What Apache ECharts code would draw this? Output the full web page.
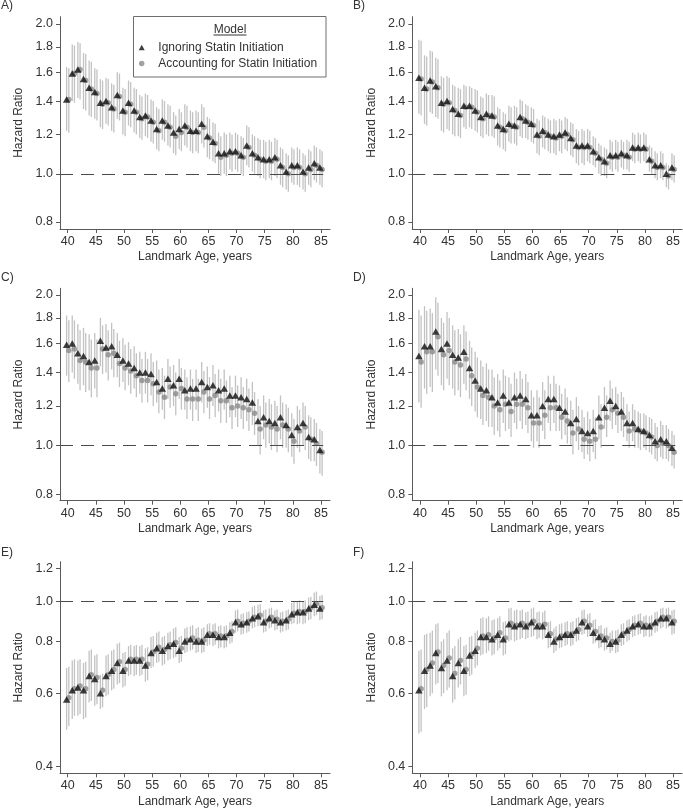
<!DOCTYPE html>
<html>
<head>
<meta charset="utf-8">
<script src="https://cdn.jsdelivr.net/npm/echarts@6/dist/echarts.min.js"></script>
<style>
html,body{margin:0;padding:0;background:#fff;}
#chart{width:683px;height:811px;}
</style>
</head>
<body>
<div id="chart"></div>
<script>
// ---------- categories & tick labels ----------
const ages = [40,41,42,43,44,45,46,47,48,49,50,51,52,53,54,55,56,57,58,59,60,61,62,63,64,65,66,67,68,69,70,71,72,73,74,75,76,77,78,79,80,81,82,83,84,85];
const xTicks = [40,45,50,55,60,65,70,75,80,85];
const yTicksUpper = [0.8,1.0,1.2,1.4,1.6,1.8,2.0];
const yTicksLower = [0.4,0.6,0.8,1.0,1.2];
const panelLabels = ['A)','B)','C)','D)','E)','F)'];
const seriesNames = ['Ignoring Statin Initiation','Accounting for Statin Initiation'];
const legendTitle = 'Model';
const xAxisTitle = 'Landmark Age, years';
const yAxisTitle = 'Hazard Ratio';
const referenceHR = 1.0;

// ---------- Panel A ----------
const aTri   = [1.41,1.59,1.62,1.55,1.49,1.46,1.39,1.40,1.36,1.44,1.34,1.39,1.34,1.30,1.31,1.28,1.23,1.28,1.25,1.21,1.23,1.25,1.22,1.22,1.26,1.19,1.16,1.10,1.10,1.11,1.11,1.09,1.14,1.10,1.08,1.07,1.07,1.08,1.04,1.01,1.04,1.04,1.01,1.03,1.05,1.03];
const aTriLo = [1.22,1.40,1.42,1.35,1.31,1.29,1.24,1.26,1.22,1.29,1.20,1.25,1.21,1.18,1.19,1.16,1.12,1.17,1.14,1.10,1.12,1.14,1.11,1.11,1.15,1.08,1.06,1.00,1.00,1.02,1.02,1.00,1.04,1.01,0.99,0.98,0.98,0.99,0.95,0.93,0.96,0.95,0.93,0.95,0.97,0.95];
const aTriHi = [1.64,1.82,1.84,1.75,1.69,1.63,1.55,1.56,1.52,1.60,1.49,1.54,1.49,1.44,1.45,1.41,1.36,1.41,1.38,1.33,1.35,1.38,1.34,1.34,1.38,1.30,1.27,1.21,1.21,1.21,1.21,1.19,1.25,1.20,1.18,1.17,1.17,1.18,1.13,1.10,1.13,1.13,1.10,1.12,1.14,1.12];
const aCir   = [1.41,1.59,1.62,1.54,1.48,1.45,1.38,1.39,1.35,1.43,1.33,1.38,1.33,1.29,1.30,1.27,1.22,1.27,1.24,1.19,1.21,1.24,1.21,1.21,1.24,1.18,1.15,1.08,1.09,1.10,1.10,1.08,1.13,1.09,1.07,1.06,1.06,1.07,1.03,1.00,1.03,1.03,1.00,1.02,1.04,1.02];
const aCirLo = [1.21,1.39,1.41,1.34,1.30,1.28,1.23,1.25,1.21,1.28,1.19,1.24,1.20,1.17,1.18,1.15,1.11,1.16,1.13,1.09,1.11,1.13,1.10,1.10,1.13,1.07,1.05,0.99,0.99,1.01,1.01,0.99,1.03,1.00,0.98,0.97,0.97,0.98,0.94,0.92,0.95,0.94,0.92,0.94,0.96,0.94];
const aCirHi = [1.63,1.81,1.83,1.74,1.68,1.62,1.54,1.55,1.51,1.59,1.48,1.53,1.48,1.43,1.44,1.40,1.35,1.40,1.37,1.31,1.33,1.37,1.33,1.33,1.36,1.29,1.26,1.19,1.20,1.20,1.20,1.18,1.24,1.19,1.17,1.16,1.16,1.17,1.12,1.09,1.12,1.12,1.09,1.11,1.13,1.11];

// ---------- Panel B ----------
const bTri   = [1.56,1.49,1.54,1.50,1.39,1.40,1.35,1.32,1.37,1.37,1.34,1.30,1.32,1.31,1.25,1.23,1.26,1.25,1.30,1.28,1.26,1.20,1.22,1.20,1.19,1.20,1.21,1.18,1.14,1.14,1.14,1.11,1.08,1.06,1.09,1.09,1.10,1.09,1.13,1.13,1.13,1.07,1.04,1.04,1.00,1.03];
const bTriLo = [1.32,1.26,1.33,1.30,1.22,1.23,1.20,1.19,1.24,1.24,1.22,1.19,1.20,1.19,1.14,1.12,1.16,1.15,1.19,1.18,1.16,1.10,1.13,1.11,1.10,1.11,1.12,1.09,1.05,1.05,1.06,1.04,1.00,0.99,1.02,1.02,1.03,1.02,1.06,1.06,1.06,1.01,0.98,0.98,0.94,0.97];
const bTriHi = [1.86,1.73,1.77,1.71,1.57,1.57,1.51,1.49,1.51,1.50,1.48,1.43,1.45,1.44,1.36,1.33,1.37,1.37,1.41,1.38,1.36,1.29,1.31,1.29,1.29,1.29,1.30,1.27,1.23,1.23,1.23,1.19,1.15,1.13,1.17,1.17,1.17,1.17,1.21,1.21,1.21,1.14,1.11,1.11,1.05,1.10];
const bCir   = [1.55,1.48,1.53,1.49,1.38,1.39,1.34,1.31,1.36,1.36,1.33,1.29,1.31,1.30,1.24,1.22,1.25,1.24,1.29,1.27,1.25,1.19,1.21,1.19,1.18,1.19,1.20,1.17,1.13,1.13,1.13,1.10,1.07,1.05,1.08,1.08,1.09,1.08,1.12,1.12,1.12,1.06,1.03,1.03,0.99,1.02];
const bCirLo = [1.31,1.25,1.32,1.29,1.21,1.22,1.19,1.18,1.23,1.23,1.21,1.18,1.19,1.18,1.13,1.11,1.15,1.14,1.18,1.17,1.15,1.09,1.12,1.10,1.09,1.10,1.11,1.08,1.04,1.04,1.05,1.03,0.99,0.98,1.01,1.01,1.02,1.01,1.05,1.05,1.05,1.00,0.97,0.97,0.93,0.96];
const bCirHi = [1.85,1.72,1.76,1.70,1.56,1.56,1.50,1.48,1.50,1.49,1.47,1.42,1.44,1.43,1.35,1.32,1.36,1.36,1.40,1.37,1.35,1.28,1.30,1.28,1.28,1.28,1.29,1.26,1.22,1.22,1.22,1.18,1.14,1.12,1.16,1.16,1.16,1.16,1.20,1.20,1.20,1.13,1.10,1.10,1.04,1.09];

// ---------- Panel C ----------
const cTri   = [1.59,1.60,1.53,1.51,1.47,1.48,1.62,1.57,1.58,1.52,1.48,1.46,1.43,1.40,1.40,1.39,1.34,1.30,1.36,1.32,1.36,1.29,1.30,1.30,1.34,1.31,1.32,1.29,1.30,1.26,1.26,1.25,1.24,1.22,1.12,1.14,1.12,1.11,1.14,1.10,1.05,1.09,1.11,1.04,1.03,0.98];
const cTriLo = [1.38,1.40,1.33,1.32,1.29,1.30,1.44,1.40,1.42,1.37,1.34,1.32,1.30,1.27,1.27,1.26,1.22,1.18,1.24,1.20,1.24,1.18,1.18,1.18,1.22,1.19,1.20,1.17,1.18,1.14,1.14,1.13,1.12,1.10,1.00,1.03,1.01,1.00,1.03,0.99,0.95,0.99,1.00,0.94,0.93,0.88];
const cTriHi = [1.82,1.82,1.75,1.72,1.67,1.68,1.80,1.75,1.76,1.68,1.64,1.61,1.58,1.54,1.54,1.53,1.48,1.43,1.49,1.45,1.49,1.42,1.42,1.42,1.47,1.44,1.45,1.42,1.42,1.38,1.38,1.37,1.36,1.34,1.24,1.26,1.24,1.23,1.26,1.21,1.16,1.20,1.22,1.15,1.13,1.08];
const cCir   = [1.55,1.56,1.48,1.47,1.43,1.43,1.56,1.52,1.53,1.46,1.43,1.41,1.38,1.35,1.35,1.33,1.28,1.25,1.31,1.27,1.30,1.24,1.24,1.24,1.28,1.24,1.26,1.23,1.23,1.19,1.20,1.19,1.18,1.16,1.08,1.10,1.09,1.08,1.10,1.08,1.02,1.07,1.09,1.03,1.01,0.97];
const cCirLo = [1.34,1.36,1.29,1.28,1.25,1.25,1.39,1.35,1.37,1.31,1.29,1.27,1.25,1.22,1.22,1.20,1.16,1.13,1.19,1.15,1.18,1.13,1.12,1.12,1.16,1.13,1.14,1.11,1.11,1.08,1.09,1.08,1.07,1.05,0.96,0.99,0.98,0.97,0.99,0.97,0.92,0.97,0.98,0.93,0.91,0.87];
const cCirHi = [1.78,1.78,1.70,1.68,1.63,1.63,1.74,1.70,1.71,1.62,1.59,1.56,1.53,1.49,1.49,1.47,1.42,1.38,1.44,1.40,1.43,1.37,1.36,1.36,1.41,1.37,1.39,1.36,1.35,1.31,1.32,1.31,1.30,1.28,1.20,1.22,1.21,1.20,1.22,1.19,1.13,1.18,1.20,1.14,1.11,1.07];

// ---------- Panel D ----------
const dTri   = [1.51,1.58,1.58,1.69,1.56,1.60,1.52,1.50,1.54,1.43,1.35,1.30,1.29,1.25,1.22,1.26,1.22,1.25,1.26,1.24,1.15,1.15,1.20,1.24,1.24,1.19,1.17,1.11,1.13,1.07,1.06,1.07,1.14,1.19,1.23,1.20,1.17,1.11,1.11,1.08,1.07,1.05,1.02,1.03,1.02,0.99];
const dTriLo = [1.22,1.30,1.31,1.42,1.32,1.36,1.30,1.29,1.33,1.24,1.17,1.13,1.12,1.09,1.07,1.11,1.08,1.11,1.12,1.10,1.02,1.02,1.07,1.11,1.11,1.07,1.05,1.00,1.02,0.97,0.96,0.97,1.03,1.08,1.12,1.10,1.07,1.02,1.02,0.99,0.99,0.97,0.94,0.95,0.94,0.91];
const dTriHi = [1.87,1.90,1.88,1.98,1.80,1.85,1.74,1.71,1.74,1.62,1.54,1.48,1.46,1.42,1.39,1.42,1.37,1.40,1.41,1.39,1.29,1.29,1.34,1.38,1.38,1.32,1.30,1.23,1.25,1.18,1.17,1.18,1.26,1.31,1.35,1.31,1.28,1.21,1.21,1.17,1.16,1.14,1.11,1.12,1.10,1.07];
const dCir   = [1.47,1.54,1.54,1.65,1.52,1.55,1.47,1.45,1.49,1.38,1.31,1.26,1.25,1.20,1.18,1.21,1.17,1.21,1.21,1.19,1.11,1.11,1.15,1.19,1.19,1.14,1.12,1.06,1.08,1.03,1.02,1.03,1.09,1.14,1.18,1.16,1.14,1.07,1.08,1.07,1.06,1.04,1.00,1.01,1.00,0.97];
const dCirLo = [1.19,1.27,1.28,1.38,1.29,1.32,1.26,1.25,1.29,1.20,1.14,1.10,1.09,1.05,1.04,1.07,1.04,1.08,1.08,1.06,0.99,0.99,1.03,1.07,1.07,1.03,1.01,0.96,0.98,0.94,0.93,0.94,0.99,1.04,1.08,1.06,1.04,0.99,0.99,0.98,0.98,0.96,0.93,0.94,0.93,0.90];
const dCirHi = [1.82,1.86,1.84,1.93,1.76,1.80,1.70,1.67,1.69,1.57,1.50,1.44,1.42,1.37,1.35,1.38,1.33,1.36,1.36,1.34,1.25,1.25,1.29,1.33,1.33,1.27,1.25,1.18,1.20,1.14,1.13,1.14,1.21,1.26,1.30,1.27,1.25,1.17,1.18,1.16,1.15,1.13,1.09,1.10,1.08,1.05];

// ---------- Panel E ----------
const eTri   = [0.58,0.61,0.62,0.61,0.66,0.65,0.60,0.66,0.68,0.71,0.68,0.72,0.72,0.72,0.70,0.75,0.77,0.76,0.78,0.79,0.76,0.80,0.81,0.80,0.80,0.83,0.83,0.82,0.82,0.84,0.89,0.88,0.89,0.91,0.92,0.89,0.91,0.90,0.89,0.90,0.93,0.94,0.94,0.96,0.98,0.96];
const eTriLo = [0.49,0.52,0.53,0.52,0.57,0.56,0.55,0.59,0.61,0.63,0.62,0.66,0.66,0.66,0.64,0.69,0.71,0.70,0.72,0.73,0.71,0.75,0.76,0.75,0.75,0.78,0.78,0.77,0.77,0.79,0.84,0.83,0.84,0.86,0.87,0.84,0.86,0.85,0.84,0.85,0.88,0.88,0.88,0.90,0.92,0.90];
const eTriHi = [0.69,0.72,0.72,0.71,0.76,0.74,0.665,0.74,0.76,0.79,0.75,0.78,0.78,0.78,0.77,0.82,0.84,0.82,0.84,0.86,0.82,0.86,0.87,0.86,0.86,0.88,0.88,0.87,0.87,0.89,0.95,0.93,0.94,0.97,0.98,0.95,0.96,0.95,0.94,0.95,0.99,1.00,1.00,1.02,1.05,1.03];
const eCir   = [0.585,0.615,0.625,0.615,0.665,0.655,0.61,0.665,0.685,0.715,0.685,0.725,0.725,0.725,0.705,0.755,0.775,0.765,0.785,0.795,0.77,0.805,0.815,0.805,0.805,0.835,0.835,0.825,0.825,0.845,0.895,0.885,0.895,0.915,0.925,0.895,0.915,0.905,0.895,0.905,0.935,0.945,0.945,0.965,0.985,0.965];
const eCirLo = [0.50,0.53,0.535,0.525,0.575,0.565,0.555,0.595,0.615,0.635,0.625,0.665,0.665,0.665,0.645,0.695,0.715,0.705,0.725,0.735,0.715,0.755,0.765,0.755,0.755,0.785,0.785,0.775,0.775,0.795,0.845,0.835,0.845,0.865,0.875,0.845,0.865,0.855,0.845,0.855,0.885,0.885,0.885,0.905,0.925,0.905];
const eCirHi = [0.695,0.725,0.725,0.715,0.765,0.745,0.67,0.745,0.765,0.795,0.755,0.785,0.785,0.785,0.775,0.825,0.845,0.825,0.845,0.865,0.825,0.865,0.875,0.865,0.865,0.885,0.885,0.875,0.875,0.895,0.955,0.935,0.945,0.975,0.985,0.955,0.965,0.955,0.945,0.955,0.995,1.005,1.005,1.025,1.055,1.035];

// ---------- Panel F ----------
const fTri   = [0.61,0.68,0.70,0.75,0.69,0.72,0.66,0.71,0.68,0.74,0.76,0.82,0.82,0.81,0.83,0.81,0.88,0.87,0.88,0.87,0.89,0.87,0.87,0.83,0.80,0.82,0.83,0.83,0.85,0.89,0.87,0.84,0.82,0.81,0.79,0.80,0.83,0.85,0.87,0.88,0.87,0.87,0.89,0.91,0.91,0.89];
const fTriLo = [0.48,0.55,0.59,0.63,0.59,0.61,0.57,0.62,0.59,0.66,0.69,0.74,0.75,0.74,0.76,0.74,0.80,0.80,0.81,0.81,0.82,0.81,0.81,0.77,0.75,0.77,0.78,0.78,0.80,0.83,0.82,0.79,0.77,0.76,0.75,0.75,0.78,0.80,0.82,0.83,0.82,0.82,0.84,0.86,0.86,0.83];
const fTriHi = [0.76,0.83,0.84,0.88,0.80,0.84,0.77,0.81,0.78,0.82,0.84,0.91,0.91,0.90,0.91,0.89,0.96,0.95,0.95,0.94,0.96,0.94,0.94,0.89,0.86,0.88,0.89,0.89,0.91,0.95,0.93,0.90,0.87,0.86,0.84,0.85,0.88,0.90,0.92,0.93,0.92,0.92,0.94,0.96,0.96,0.95];
const fCir   = [0.615,0.685,0.71,0.755,0.70,0.73,0.67,0.72,0.685,0.745,0.77,0.825,0.83,0.815,0.84,0.815,0.885,0.875,0.885,0.875,0.895,0.875,0.88,0.835,0.81,0.825,0.835,0.835,0.855,0.895,0.875,0.845,0.825,0.815,0.80,0.805,0.835,0.855,0.875,0.885,0.875,0.875,0.895,0.915,0.915,0.895];
const fCirLo = [0.485,0.555,0.60,0.635,0.60,0.62,0.58,0.63,0.595,0.665,0.70,0.745,0.76,0.745,0.77,0.745,0.805,0.805,0.815,0.815,0.825,0.815,0.82,0.775,0.76,0.775,0.785,0.785,0.805,0.835,0.825,0.795,0.775,0.765,0.76,0.755,0.785,0.805,0.825,0.835,0.825,0.825,0.845,0.865,0.865,0.835];
const fCirHi = [0.765,0.835,0.85,0.885,0.81,0.85,0.78,0.82,0.785,0.825,0.85,0.915,0.92,0.905,0.92,0.895,0.965,0.955,0.955,0.945,0.965,0.945,0.95,0.895,0.87,0.885,0.895,0.895,0.915,0.955,0.935,0.905,0.875,0.865,0.85,0.855,0.885,0.905,0.925,0.935,0.925,0.925,0.945,0.965,0.965,0.955];

// ---------- assemble ----------
const panelData = [
  {tri:aTri, triLo:aTriLo, triHi:aTriHi, cir:aCir, cirLo:aCirLo, cirHi:aCirHi, ticks:yTicksUpper},
  {tri:bTri, triLo:bTriLo, triHi:bTriHi, cir:bCir, cirLo:bCirLo, cirHi:bCirHi, ticks:yTicksUpper},
  {tri:cTri, triLo:cTriLo, triHi:cTriHi, cir:cCir, cirLo:cCirLo, cirHi:cCirHi, ticks:yTicksUpper},
  {tri:dTri, triLo:dTriLo, triHi:dTriHi, cir:dCir, cirLo:dCirLo, cirHi:dCirHi, ticks:yTicksUpper},
  {tri:eTri, triLo:eTriLo, triHi:eTriHi, cir:eCir, cirLo:eCirLo, cirHi:eCirHi, ticks:yTicksLower},
  {tri:fTri, triLo:fTriLo, triHi:fTriHi, cir:fCir, cirLo:fCirLo, cirHi:fCirHi, ticks:yTicksLower}
];

// layout (pixels) and axis ranges per panel
const colLeft = [60, 412.3];
const rowLayout = [
  {top:16.7,  height:212.3, yMin:0.7745, yMax:2.069},
  {top:288.3, height:212.4, yMin:0.776,  yMax:2.063},
  {top:561.7, height:211.6, yMin:0.385,  yMax:1.245}
];
const gridWidth = 270;
const xMin = 38.63, xMax = 86.6, refLineEnd = 85.4;
const labelPos = [[1,7],[353,7],[1,279],[353,279],[1,554],[353,554]];

const FONT = '"Liberation Sans", Arial, Helvetica, sans-serif';
const TEXT = '#333333';
const AXIS = '#5a5a5a';
const BAR = '#c2c2c2';
const DX = 1.1;

function barRenderer(dx) {
  return function (params, api) {
    const a = api.coord([api.value(0), api.value(1)]);
    const b = api.coord([api.value(0), api.value(2)]);
    return {
      type: 'line',
      shape: {x1: a[0] + dx, y1: a[1], x2: b[0] + dx, y2: b[1]},
      style: {stroke: BAR, lineWidth: 1.3},
      silent: true
    };
  };
}

const grids = [], xAxes = [], yAxes = [], series = [], graphics = [];
panelData.forEach((p, i) => {
  const row = rowLayout[Math.floor(i / 2)];
  grids.push({left: colLeft[i % 2], top: row.top, width: gridWidth, height: row.height, containLabel: false});
  xAxes.push({
    gridIndex: i, type: 'value', min: xMin, max: xMax,
    name: xAxisTitle, nameLocation: 'middle', nameGap: 22,
    nameTextStyle: {fontFamily: FONT, fontSize: 12, color: TEXT},
    axisLine: {show: true, onZero: false, lineStyle: {color: AXIS, width: 1}},
    axisTick: {show: true, length: 4, customValues: xTicks, lineStyle: {color: AXIS}},
    axisLabel: {customValues: xTicks, margin: 6, fontFamily: FONT, fontSize: 12.5, color: TEXT},
    splitLine: {show: false}
  });
  yAxes.push({
    gridIndex: i, type: 'log', min: row.yMin, max: row.yMax,
    name: yAxisTitle, nameLocation: 'middle', nameGap: 35,
    nameTextStyle: {fontFamily: FONT, fontSize: 12, color: TEXT},
    axisLine: {show: true, lineStyle: {color: AXIS, width: 1}},
    axisTick: {show: true, length: 4, customValues: p.ticks, lineStyle: {color: AXIS}},
    axisLabel: {customValues: p.ticks, margin: 7, fontFamily: FONT, fontSize: 12.5, color: TEXT,
      formatter: v => Number(v).toFixed(1)},
    splitLine: {show: false}
  });
  // error bars
  series.push({
    type: 'custom', name: 'ci-tri-' + i, xAxisIndex: i, yAxisIndex: i, z: 1,
    renderItem: barRenderer(-DX), encode: {x: 0, y: [1, 2]}, clip: false,
    data: ages.map((a, k) => [a, p.triLo[k], p.triHi[k]])
  });
  series.push({
    type: 'custom', name: 'ci-cir-' + i, xAxisIndex: i, yAxisIndex: i, z: 1,
    renderItem: barRenderer(DX), encode: {x: 0, y: [1, 2]}, clip: false,
    data: ages.map((a, k) => [a, p.cirLo[k], p.cirHi[k]])
  });
  // reference line at HR = 1
  series.push({
    type: 'line', name: 'ref-' + i, xAxisIndex: i, yAxisIndex: i, z: 1,
    data: [], silent: true,
    markLine: {
      silent: true, symbol: ['none', 'none'], label: {show: false},
      lineStyle: {color: '#4a4a4a', type: [13, 8], width: 1.2},
      data: [[{coord: [xMin, referenceHR]}, {coord: [refLineEnd, referenceHR]}]]
    }
  });
  // points
  series.push({
    type: 'scatter', name: seriesNames[1], xAxisIndex: i, yAxisIndex: i, z: 3,
    symbol: 'circle', symbolSize: 5.5, symbolOffset: [DX, 0],
    itemStyle: {color: '#8a8a8a'},
    data: ages.map((a, k) => [a, p.cir[k]])
  });
  series.push({
    type: 'scatter', name: seriesNames[0], xAxisIndex: i, yAxisIndex: i, z: 4,
    symbol: 'triangle', symbolSize: [7.5, 6.5], symbolOffset: [-DX, 0],
    itemStyle: {color: '#0f0f0f'},
    data: ages.map((a, k) => [a, p.tri[k]])
  });
  graphics.push({
    type: 'text', left: labelPos[i][0], top: labelPos[i][1] - 7,
    style: {text: panelLabels[i], font: '12px ' + FONT, fill: TEXT}
  });
});

// legend frame and title (panel A)
graphics.push({
  type: 'rect', z: 0,
  shape: {x: 133.5, y: 16.5, width: 192.5, height: 60.5},
  style: {fill: '#ffffff', stroke: '#6e6e6e', lineWidth: 1}
});
graphics.push({
  type: 'text', x: 230, y: 29.5, z: 5,
  style: {text: legendTitle, font: '12px ' + FONT, fill: TEXT, textAlign: 'center', textVerticalAlign: 'middle'}
});
graphics.push({
  type: 'line', z: 5,
  shape: {x1: 213.5, y1: 35, x2: 246.5, y2: 35},
  style: {stroke: TEXT, lineWidth: 1}
});

const chart = echarts.init(document.getElementById('chart'), null, {renderer: 'canvas'});
chart.setOption({
  animation: false,
  backgroundColor: '#ffffff',
  grid: grids,
  xAxis: xAxes,
  yAxis: yAxes,
  legend: {
    data: [{name: seriesNames[0], icon: 'triangle'}, {name: seriesNames[1], icon: 'circle'}],
    orient: 'vertical', left: 138.7, top: 40.5, padding: 0,
    itemWidth: 6, itemHeight: 5.5, itemGap: 2, selectedMode: false,
    textStyle: {fontFamily: FONT, fontSize: 12, color: TEXT, lineHeight: 14, padding: [0, 0, 0, 8.6]}
  },
  graphic: graphics,
  series: series
});
</script>
</body>
</html>
